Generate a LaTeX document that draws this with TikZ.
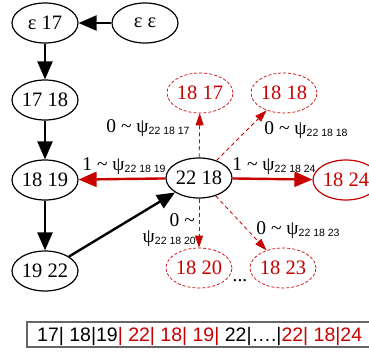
\documentclass[tikz,border=0pt]{standalone}
\usepackage{fontspec}
\setmainfont{Liberation Serif}
\newfontfamily\subfont{Liberation Sans}
\usetikzlibrary{shapes.geometric,arrows.meta}

\definecolor{pathred}{RGB}{200,0,0}

% psi with a sans-serif subscript index
\newcommand\psisub[1]{ψ\raisebox{-2pt}{\subfont\fontsize{10.5}{10.5}\selectfont #1}}
\newcommand\wlabel[2]{#1 \textasciitilde{} \psisub{#2}}

\tikzset{
  state/.style={ellipse, draw, line width=1.2pt, minimum width=66pt, minimum height=40pt,
                inner sep=0pt, font=\fontsize{20.5}{20.5}\selectfont},
  cand/.style={state, draw=pathred, text=pathred, line width=0.7pt, dash pattern=on 3pt off 2pt},
  best/.style={state, draw=pathred, text=pathred},
  trail/.style={line width=2.4pt, -{Triangle[length=18pt,width=15pt]}},
  chosen/.style={trail, draw=pathred, color=pathred},
  probe/.style={draw=pathred, line width=0.8pt, dash pattern=on 4pt off 3pt,
                -{Triangle[length=12pt,width=8pt]}, color=pathred},
  wtext/.style={font=\fontsize{19.5}{19.5}\selectfont, inner sep=0pt}
}

\begin{document}
\begin{tikzpicture}[x=1pt,y=-1pt]
  \useasboundingbox (0,0) rectangle (369,354);

  % decoded chain of states
  \node[state] (e17)  at (45,23)  {ε 17};
  \node[state] (ee)   at (145,23) {ε ε};
  \node[state] (s1718) at (45,100)  {17 18};
  \node[state] (s1819) at (45,180) {18 19};
  \node[state] (s1922) at (45,271) {19 22};
  \node[state] (s2218) at (199,178) {22 18};

  % candidate successors of 22 18
  \node[cand] (c1817) at (200,93)  {18 17};
  \node[cand] (c1818) at (284,93)  {18 18};
  \node[cand] (c1820) at (199,268) {18 20};
  \node[cand] (c1823) at (283,268) {18 23};
  \node[best] (c1824) at (346,180) {18 24};
  \node[wtext] (dots) at (240,281) {...};

  % transitions along the chain
  \draw[trail] (ee) -- (e17);
  \draw[trail] (e17) -- (s1718);
  \draw[trail] (s1718) -- (s1819);
  \draw[trail] (s1819) -- (s1922);
  \draw[trail] (s1922) -- (s2218);

  % scored branches out of 22 18
  \draw[chosen] (s2218) -- (s1819);
  \draw[chosen] (s2218) -- (c1824);
  \draw[probe] (s2218) -- (c1817);
  \draw[probe] (s2218) -- (c1818);
  \draw[probe] (s2218) -- (c1820);
  \draw[probe] (s2218) -- (c1823);

  % branch weights
  \node[wtext, anchor=base] (w1817) at (148,132) {\wlabel{0}{22 18 17}};
  \node[wtext, anchor=base] (w1818) at (306,134) {\wlabel{0}{22 18 18}};
  \node[wtext, anchor=base] (w1819) at (124,170) {\wlabel{1}{22 18 19}};
  \node[wtext, anchor=base] (w1824) at (274,170) {\wlabel{1}{22 18 24}};
  \node[wtext, anchor=base east] (w1820a) at (195,226) {0 \textasciitilde};
  \node[wtext, anchor=base east] (w1820b) at (196,242) {\psisub{22 18 20}};
  \node[wtext, anchor=base] (w1823) at (298,234) {\wlabel{0}{22 18 23}};

  % flattened index sequence
  \draw[draw=black!60, line width=1.2pt] (27,322) rectangle (376,347);
  \node[anchor=base west, inner sep=0pt, font=\subfont\fontsize{19.5}{19.5}\selectfont] (seq) at (37,341)
    {17| 18|19\textcolor{pathred}{| 22| 18| 19|} 22|….|\textcolor{pathred}{22| 18|24}};
\end{tikzpicture}
\end{document}
